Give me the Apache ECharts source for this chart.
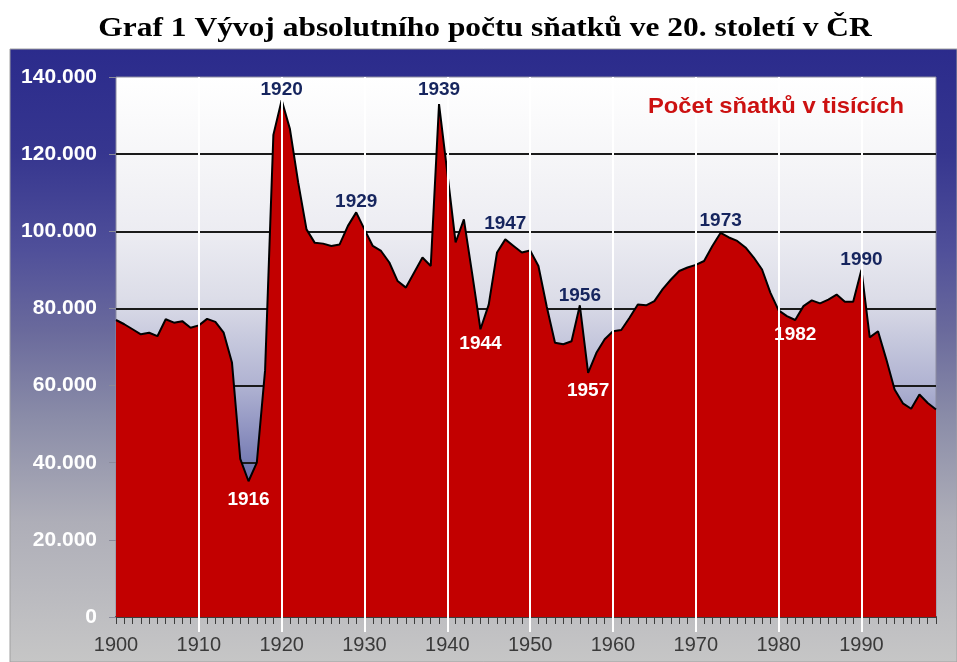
<!DOCTYPE html>
<html>
<head>
<meta charset="utf-8">
<script src="https://cdn.jsdelivr.net/npm/echarts@6/dist/echarts.min.js"></script>
<style>
  html, body { margin: 0; padding: 0; background: #fff; }
  #chart { width: 957px; height: 662px; }
</style>
</head>
<body>
<div id="chart"></div>
<script>
// roky na ose x (1900 - 1999)
var years = []
for (var y = 1900; y <= 1999; y++) years.push(String(y))

// počet sňatků v tisících, odečteno z grafu po desetiletích
var m1900 = [77.0, 75.9, 74.6, 73.3, 73.7, 72.8, 77.2, 76.3, 76.7, 75.0]
var m1910 = [75.6, 77.3, 76.5, 73.7, 66.0, 41.0, 35.2, 40.0, 64.0, 125.0]
var m1920 = [134.0, 126.5, 112.6, 100.5, 97.0, 96.8, 96.2, 96.6, 101.4, 104.9]
var m1930 = [100.5, 96.2, 94.9, 91.9, 87.1, 85.4, 89.3, 93.2, 91.0, 133.0]
var m1940 = [115.2, 97.1, 103.1, 89.0, 74.6, 81.0, 94.5, 97.9, 96.2, 94.5]
var m1950 = [95.0, 91.0, 80.5, 71.1, 70.7, 71.5, 80.8, 63.3, 68.5, 72.0]
var m1960 = [74.1, 74.4, 77.6, 81.0, 80.8, 81.9, 85.0, 87.5, 89.7, 90.6]
var m1970 = [91.3, 92.3, 96.2, 99.6, 98.4, 97.5, 95.8, 93.2, 90.1, 84.1]
var m1980 = [79.5, 78.0, 77.0, 80.6, 82.1, 81.3, 82.3, 83.6, 81.7, 81.7]
var m1990 = [90.0, 72.5, 74.1, 66.8, 59.0, 55.4, 54.0, 57.7, 55.5, 53.8]
var marriages = [].concat(m1900, m1910, m1920, m1930, m1940, m1950, m1960, m1970, m1980, m1990)

// popisky vrcholů (nahoře) a propadů (dole)
var peakYears = ['1920', '1929', '1939', '1947', '1956', '1973', '1990']
var dipYears = ['1916', '1944', '1957', '1982']
// svislé bílé čáry po desetiletích
var decadeYears = ['1910', '1920', '1930', '1940', '1950', '1960', '1970', '1980', '1990']

// odsazení popisků od bodu (jen vzhled)
var labelGap = { '1920': 0, '1929': 1, '1939': 4, '1947': 6, '1956': 0, '1973': 2, '1990': 0,
                 '1916': 9, '1944': 5, '1957': 8, '1982': 5 }

var labelData = []
peakYears.forEach(function (yr) {
  labelData.push({
    value: [yr, marriages[years.indexOf(yr)]],
    label: { position: 'top', distance: labelGap[yr], color: '#16255e' }
  })
})
dipYears.forEach(function (yr) {
  labelData.push({
    value: [yr, marriages[years.indexOf(yr)]],
    label: { position: 'bottom', distance: labelGap[yr], color: '#ffffff' }
  })
})

var myChart = echarts.init(document.getElementById('chart'))

var option = {
  backgroundColor: '#ffffff',
  animation: false,
  graphic: [
    {
      type: 'rect',
      z: -10,
      shape: { x: 10, y: 49, width: 947, height: 613 },
      style: {
        fill: new echarts.graphic.LinearGradient(0, 0, 0, 1, [
          { offset: 0, color: '#2b2b8c' },
          { offset: 0.17, color: '#36368f' },
          { offset: 0.33, color: '#50509a' },
          { offset: 0.46, color: '#6a6a9c' },
          { offset: 0.6, color: '#8a8ca8' },
          { offset: 0.77, color: '#aeaeb8' },
          { offset: 1, color: '#c6c6c6' }
        ]),
        stroke: '#a0a0a0',
        lineWidth: 1
      }
    },
    {
      // titulek je v originále mírně roztažený do šířky
      type: 'text',
      x: 485,
      y: 29,
      scaleX: 1.165,
      style: {
        text: 'Graf 1 Vývoj absolutního počtu sňatků ve 20. století v ČR',
        fill: '#000000',
        font: 'bold 27px "Liberation Serif", "Times New Roman", serif',
        textAlign: 'center',
        textVerticalAlign: 'middle'
      }
    },
    {
      type: 'text',
      x: 776,
      y: 107,
      z: 20,
      scaleX: 1.08,
      style: {
        text: 'Počet sňatků v tisících',
        fill: '#cc1111',
        font: 'bold 22px "Liberation Sans", Arial, sans-serif',
        textAlign: 'center',
        textVerticalAlign: 'middle'
      }
    }
  ],
  grid: {
    left: 116,
    right: 21,
    top: 77,
    bottom: 45,
    show: true,
    borderColor: '#8c8ca0',
    borderWidth: 1,
    backgroundColor: new echarts.graphic.LinearGradient(0, 0, 0, 1, [
      { offset: 0, color: '#ffffff' },
      { offset: 0.15, color: '#f6f6f8' },
      { offset: 0.29, color: '#ececf2' },
      { offset: 0.41, color: '#dcdde8' },
      { offset: 0.48, color: '#c8cade' },
      { offset: 0.57, color: '#b0b3d2' },
      { offset: 0.65, color: '#9195c2' },
      { offset: 0.73, color: '#7076b0' },
      { offset: 1, color: '#3a4090' }
    ])
  },
  xAxis: [
    {
      type: 'category',
      data: years,
      boundaryGap: false,
      axisLine: { lineStyle: { color: '#3c3c3c', width: 2 } },
      axisTick: { interval: 0, length: 7, lineStyle: { color: '#3c3c3c', width: 1 } },
      axisLabel: {
        interval: function (index) { return index % 10 === 0 },
        margin: 18,
        fontSize: 20,
        color: '#3a3a3a',
        fontFamily: '"Liberation Sans", Arial, sans-serif'
      },
      splitLine: { show: false }
    },
    {
      type: 'category',
      data: years,
      boundaryGap: false,
      position: 'bottom',
      axisLine: { show: false },
      axisLabel: { show: false },
      axisTick: {
        interval: function (index) { return index % 10 === 0 && index > 0 },
        length: 15,
        lineStyle: { color: '#ffffff', width: 2 }
      },
      splitLine: { show: false }
    }
  ],
  yAxis: {
    type: 'value',
    min: 0,
    max: 140,
    interval: 20,
    axisLine: { show: false },
    axisTick: { show: true, length: 7, lineStyle: { color: '#8a8a9a' } },
    axisLabel: {
      margin: 19,
      fontSize: 21,
      fontWeight: 'bold',
      color: '#ffffff',
      fontFamily: '"Liberation Sans", Arial, sans-serif',
      formatter: function (v) { return v === 0 ? '0' : v + '.000' }
    },
    splitLine: { show: true, showMaxLine: false, lineStyle: { color: '#1a1a1a', width: 2 } }
  },
  series: [
    {
      name: 'Počet sňatků',
      type: 'line',
      data: marriages,
      symbol: 'none',
      lineStyle: { color: '#000000', width: 2 },
      areaStyle: { color: '#c20000', opacity: 1 },
      z: 2
    },
    {
      name: 'popisky',
      type: 'scatter',
      data: labelData,
      symbol: 'circle',
      symbolSize: 1,
      itemStyle: { color: 'rgba(0,0,0,0)', opacity: 1 },
      silent: true,
      z: 5,
      label: {
        show: true,
        opacity: 1,
        formatter: function (p) { return p.value[0] },
        fontSize: 19,
        fontWeight: 'bold',
        fontFamily: '"Liberation Sans", Arial, sans-serif'
      },
      markLine: {
        silent: true,
        symbol: 'none',
        label: { show: false },
        lineStyle: { color: '#ffffff', width: 2, type: 'solid', opacity: 1 },
        data: decadeYears.map(function (yr) { return { xAxis: yr } })
      }
    }
  ]
}

myChart.setOption(option)
</script>
</body>
</html>
